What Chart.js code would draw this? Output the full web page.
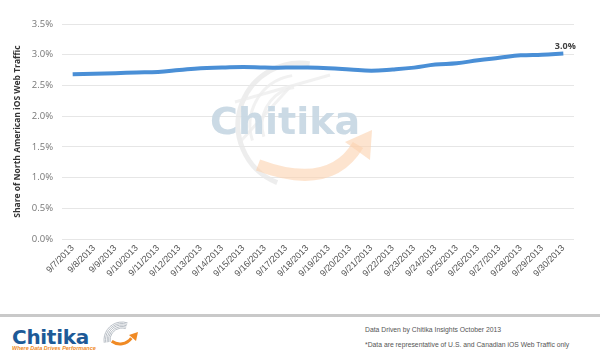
<!DOCTYPE html>
<html>
<head>
<meta charset="utf-8">
<script src="https://cdn.jsdelivr.net/npm/chart.js@4"></script>
<style>
  html, body { margin: 0; padding: 0; background: #fff; }
  body { width: 600px; height: 357px; position: relative; overflow: hidden; font-family: "Liberation Sans", Arial, sans-serif; }
  #wrap { position: absolute; left: 0; top: 0; width: 600px; height: 310px; }
  #sep { position: absolute; left: 0; top: 314px; width: 600px; height: 3px; background: #c9c9c9; }
  #logo { position: absolute; left: 12px; top: 325px; font-family: "DejaVu Sans", sans-serif; font-weight: bold; font-size: 20px; color: #1d5a97; letter-spacing: -0.3px; }
  #tag { position: absolute; left: 12px; top: 345px; font-family: "Liberation Sans", Arial, sans-serif; font-weight: bold; font-style: italic; font-size: 5.5px; color: #f08a24; }
  #swoosh { position: absolute; left: 96px; top: 318px; }
  .note { position: absolute; left: 365px; font-size: 6.8px; color: #555; white-space: nowrap; }
</style>
</head>
<body>
<div id="wrap"><canvas id="c" width="600" height="310"></canvas></div>
<div id="sep"></div>
<div id="logo">Chitika</div>
<div id="tag">Where Data Drives Performance</div>
<canvas id="swoosh" width="48" height="36"></canvas>
<div class="note" style="top:326px;">Data Driven by Chitika Insights October 2013</div>
<div class="note" style="top:341px;">*Data are representative of U.S. and Canadian iOS Web Traffic only</div>
<script>
const categories = ['9/7/2013','9/8/2013','9/9/2013','9/10/2013','9/11/2013','9/12/2013','9/13/2013','9/14/2013','9/15/2013','9/16/2013','9/17/2013','9/18/2013','9/19/2013','9/20/2013','9/21/2013','9/22/2013','9/23/2013','9/24/2013','9/25/2013','9/26/2013','9/27/2013','9/28/2013','9/29/2013','9/30/2013'];
const shareValues = [2.68,2.69,2.70,2.71,2.72,2.75,2.78,2.79,2.80,2.79,2.79,2.79,2.78,2.76,2.74,2.76,2.79,2.84,2.86,2.91,2.95,2.99,3.00,3.02];
const yTicks = [0,0.5,1.0,1.5,2.0,2.5,3.0,3.5];
const yTitle = 'Share of North American iOS Web Traffic';
const lastLabel = '3.0%';

// footer logo swoosh
(function(){
  const s = document.getElementById('swoosh').getContext('2d');
  s.strokeStyle = '#b9bfc6'; s.lineWidth = 1;
  for (let i = 0; i < 5; i++) {
    s.beginPath(); s.arc(26, 22, 12 + i*1.5, Math.PI*0.95, Math.PI*1.6); s.stroke();
  }
  s.strokeStyle = '#f08a24'; s.lineWidth = 3;
  s.beginPath(); s.arc(24, 12, 14, Math.PI*0.7, Math.PI*0.2, true); s.stroke();
  s.fillStyle = '#f08a24';
  s.beginPath(); s.moveTo(42, 14); s.lineTo(33, 17); s.lineTo(40, 23); s.closePath(); s.fill();
})();

const watermark = {
  id: 'watermark',
  beforeDatasetsDraw(chart) {
    const ctx = chart.ctx;
    ctx.save();
    // faint globe
    ctx.strokeStyle = 'rgba(232,232,232,0.8)';
    ctx.lineWidth = 5;
    ctx.beginPath(); ctx.arc(300, 125, 62, Math.PI*0.62, Math.PI*1.55); ctx.stroke();
    ctx.lineWidth = 3;
    ctx.strokeStyle = 'rgba(238,238,238,0.8)';
    ctx.beginPath(); ctx.arc(300, 125, 50, Math.PI*0.9, Math.PI*1.45); ctx.stroke();
    ctx.beginPath(); ctx.arc(300, 125, 38, Math.PI*0.9, Math.PI*1.45); ctx.stroke();
    ctx.beginPath(); ctx.moveTo(235, 102); ctx.lineTo(330, 75); ctx.stroke();
    ctx.beginPath(); ctx.moveTo(240, 142); ctx.lineTo(290, 87); ctx.stroke();
    // orange arrow
    ctx.strokeStyle = 'rgba(252,210,175,0.6)';
    ctx.lineWidth = 12;
    ctx.beginPath();
    ctx.moveTo(258, 165);
    ctx.quadraticCurveTo(330, 192, 358, 145);
    ctx.stroke();
    ctx.fillStyle = 'rgba(252,210,175,0.6)';
    ctx.beginPath(); ctx.moveTo(372, 130); ctx.lineTo(345, 142); ctx.lineTo(370, 160); ctx.closePath(); ctx.fill();
    // text
    ctx.font = 'bold 38px "DejaVu Sans"';
    ctx.fillStyle = 'rgba(200,216,228,0.95)';
    ctx.textBaseline = 'alphabetic';
    ctx.fillText('Chitika', 210, 134);
    ctx.restore();
  }
};

const lastValueLabel = {
  id: 'lastValueLabel',
  afterDatasetsDraw(chart) {
    const meta = chart.getDatasetMeta(0);
    const pt = meta.data[meta.data.length - 1];
    const ctx = chart.ctx;
    ctx.save();
    ctx.font = 'bold 9px "Open Sans"';
    ctx.fillStyle = '#404040';
    ctx.textAlign = 'center';
    ctx.textBaseline = 'middle';
    ctx.fillText(lastLabel, pt.x + 2, pt.y - 7);
    ctx.restore();
  }
};

new Chart(document.getElementById('c'), {
  type: 'line',
  data: {
    labels: categories,
    datasets: [{
      data: shareValues,
      borderColor: '#4a8fd6',
      borderWidth: 4,
      pointRadius: 0,
      tension: 0.4,
      fill: false
    }]
  },
  options: {
    responsive: false,
    animation: false,
    layout: { padding: { top: 24, right: 26, left: 12, bottom: 0 } },
    plugins: { legend: { display: false }, tooltip: { enabled: false } },
    scales: {
      x: {
        offset: true,
        grid: { display: false, drawTicks: false },
        border: { display: false },
        ticks: {
          autoSkip: false, maxRotation: 45, minRotation: 45, padding: 4,
          color: '#555', font: { family: '"Liberation Sans", Arial', size: 9 }
        },
        afterFit(scale) { scale.height = 71; }
      },
      y: {
        min: 0, max: 3.5,
        afterBuildTicks(scale) { scale.ticks = yTicks.map(v => ({ value: v })); },
        grid: { color: '#e6e6e6', lineWidth: 1, drawTicks: false },
        border: { display: false },
        ticks: {
          padding: 9, color: '#777',
          font: { family: '"Open Sans"', size: 9.5 },
          callback: v => v.toFixed(1) + '%'
        },
        title: {
          display: true, text: yTitle, color: '#333',
          font: { family: '"Open Sans"', size: 8.5, weight: 'bold' },
          padding: { top: 0, bottom: 4 }
        },
        afterFit(scale) { scale.width = 50; }
      }
    }
  },
  plugins: [watermark, lastValueLabel]
});
</script>
</body>
</html>
